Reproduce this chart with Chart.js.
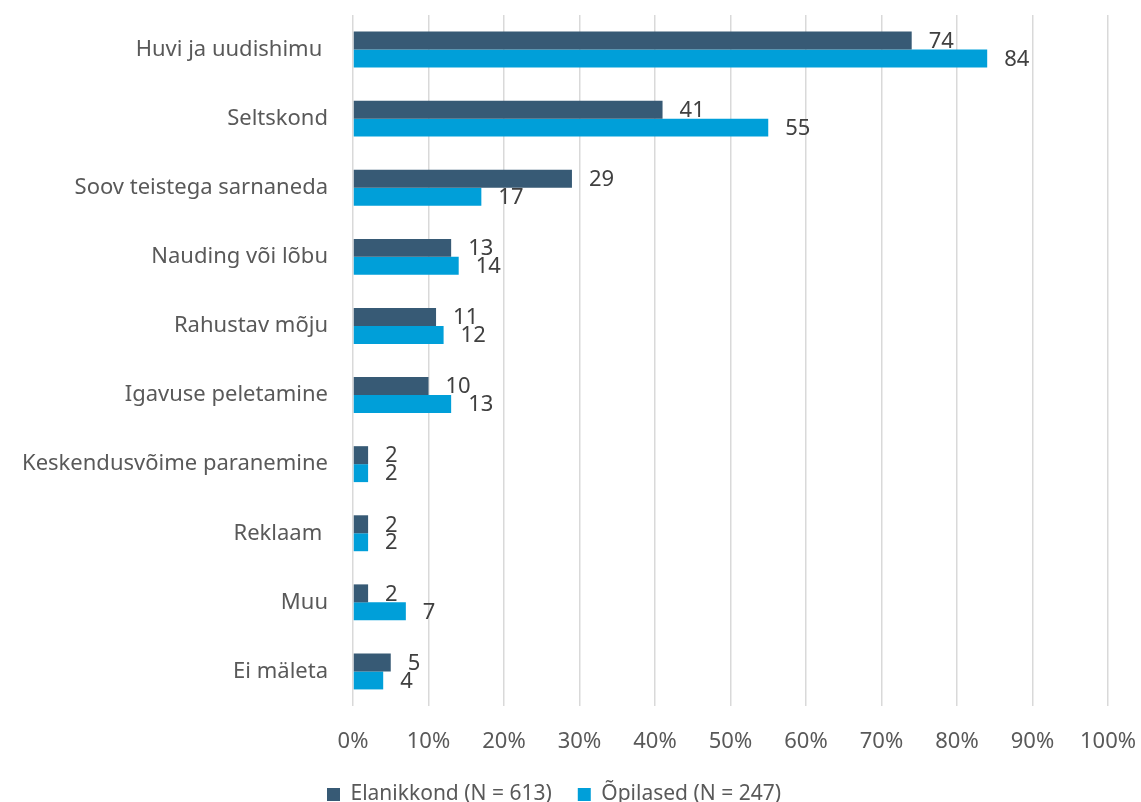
<!DOCTYPE html>
<html>
<head>
<meta charset="utf-8">
<script src="https://cdn.jsdelivr.net/npm/chart.js@4"></script>
<style>
  html, body { margin: 0; padding: 0; background: #fff; overflow: hidden; }
  #wrap { width: 1141px; height: 815px; position: relative; }
</style>
</head>
<body>
<div id="wrap"><canvas id="chart"></canvas></div>
<script>
// categories (top to bottom)
const categories = [
    'Huvi ja uudishimu ',
    'Seltskond',
    'Soov teistega sarnaneda',
    'Nauding või lõbu',
    'Rahustav mõju',
    'Igavuse peletamine',
    'Keskendusvõime paranemine',
    'Reklaam ',
    'Muu',
    'Ei mäleta'
];
const elanikkond = [74, 41, 29, 13, 11, 10, 2, 2, 2, 5];
const opilased = [84, 55, 17, 14, 12, 13, 2, 2, 7, 4];
const seriesNames = ['Elanikkond (N = 613)', 'Õpilased (N = 247)'];
const xTicks = [0, 10, 20, 30, 40, 50, 60, 70, 80, 90, 100];

const FONT = "'Noto Sans', sans-serif";

// value labels: dark series drawn before bars so the light bars overlap it like in Excel
function drawLabels(chart, idx) {
    const ctx = chart.ctx;
    const meta = chart.getDatasetMeta(idx);
    const values = chart.data.datasets[idx].data;
    ctx.save();
    ctx.font = '22px ' + FONT;
    ctx.fillStyle = '#404040';
    ctx.textAlign = 'left';
    ctx.textBaseline = 'middle';
    meta.data.forEach((bar, i) => {
        ctx.fillText(values[i], bar.x + 17, bar.y + 1);
    });
    ctx.restore();
}

const labelPlugin = {
    id: 'valueLabels',
    beforeDatasetsDraw(chart) { drawLabels(chart, 0); },
    afterDatasetsDraw(chart) { drawLabels(chart, 1); }
};

Chart.defaults.font.family = FONT;
Chart.defaults.font.size = 22;
Chart.defaults.color = '#595959';

new Chart(document.getElementById('chart'), {
    type: 'bar',
    data: {
        labels: categories,
        datasets: [{
            label: seriesNames[0],
            data: elanikkond,
            backgroundColor: '#375a75',
            categoryPercentage: 0.52,
            barPercentage: 1
        }, {
            label: seriesNames[1],
            data: opilased,
            backgroundColor: '#009fd9',
            categoryPercentage: 0.52,
            barPercentage: 1
        }]
    },
    options: {
        indexAxis: 'y',
        responsive: true,
        maintainAspectRatio: false,
        animation: false,
        layout: { padding: { top: 15, right: 33, bottom: 0, left: 0 } },
        plugins: {
            legend: {
                position: 'bottom',
                labels: { boxWidth: 13, boxHeight: 13, padding: 26, color: '#595959', font: { size: 21 } }
            },
            tooltip: { enabled: false }
        },
        scales: {
            x: {
                min: 0,
                max: 100,
                afterBuildTicks(scale) { scale.ticks = xTicks.map(v => ({ value: v })); },
                afterFit(scale) {
                    scale.height = 52;
                    scale.paddingLeft = 0;
                    scale.paddingRight = 0;
                },
                ticks: { padding: 23, callback: v => v + '%', color: '#595959', font: { size: 22 } },
                grid: { color: '#d9d9d9', lineWidth: 1.5, drawTicks: false },
                border: { display: false }
            },
            y: {
                afterFit(scale) {
                    scale.width = 353;
                    scale.paddingTop = 0;
                    scale.paddingBottom = 0;
                },
                ticks: { padding: 25, color: '#595959', font: { size: 22 } },
                grid: { display: false, drawTicks: false },
                border: { display: false }
            }
        }
    },
    plugins: [labelPlugin]
});
</script>
</body>
</html>
